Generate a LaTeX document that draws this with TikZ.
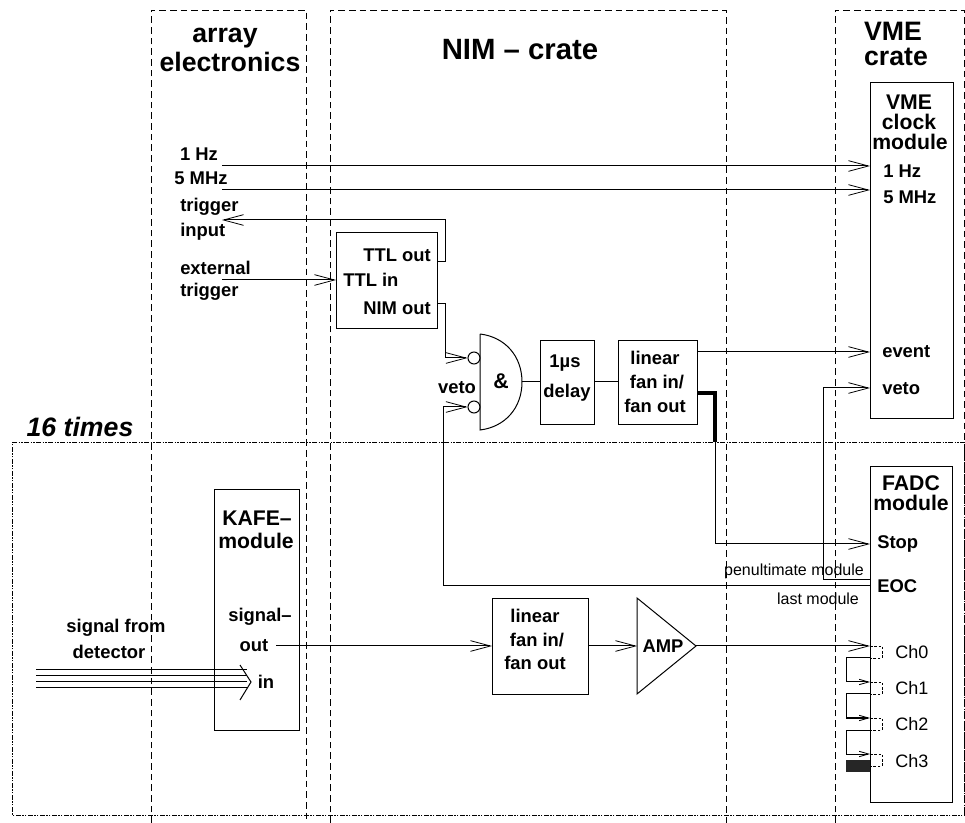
\documentclass[tikz,border=0pt]{standalone}
\usepackage{fontspec}
\setmainfont{Liberation Sans}
\usetikzlibrary{arrows.meta}
\newcommand{\fsz}[1]{\fontsize{#1}{#1}\selectfont}
\tikzset{
  x=0.75pt,y=-0.75pt,
  ln/.style={line width=0.75pt,black},
  region/.style={line width=0.6pt,dash pattern=on 5pt off 3pt},
  times/.style={line width=0.6pt,dash pattern=on 4pt off 1pt on 1pt off 1pt on 1pt off 1pt},
  stub/.style={line width=0.5pt,dash pattern=on 2pt off 1.2pt},
  box/.style 2 args={ln,draw,anchor=north west,inner sep=0pt,minimum width=#1*0.75pt,minimum height=#2*0.75pt},
  big/.style={ln,-{Straight Barb[length=15pt,width=8pt,line width=0.6pt]}},
  small/.style={ln,-{Straight Barb[length=7pt,width=4pt,line width=0.6pt]}},
  lab/.style={inner sep=0pt,font=\bfseries\fsz{13.8}},
  modlab/.style={inner sep=0pt,font=\bfseries\fsz{15.9}},
  title/.style={inner sep=0pt,font=\bfseries\fsz{20}},
  hugetitle/.style={inner sep=0pt,font=\bfseries\fsz{22}},
  note/.style={inner sep=0pt,font=\fsz{12}},
  chan/.style={inner sep=0pt,font=\fsz{13.5}},
}
\begin{document}
\begin{tikzpicture}
\useasboundingbox (0,0) rectangle (965,823);
% regions
\draw[region] (151,823) -- (151,10) -- (306,10) -- (306,823);
\draw[region] (330,823) -- (330,10) -- (726,10) -- (726,823);
\draw[region] (835,823) -- (835,10) -- (964,10) -- (964,815);
\draw[times] (12,442) -- (964,442) -- (964,815) -- (12,815) -- cycle;
% boxes
\node[box={83}{336}] (vmeclock) at (870,82) {};
\node[box={82}{336}] (fadc) at (870,466) {};
\node[box={85}{241}] (kafe) at (214,489) {};
\node[box={101}{96}] (ttl) at (336,232) {};
\node[box={54}{84}] (delay) at (540,340) {};
\node[box={79}{84}] (fan) at (618,340) {};
\node[box={96}{96}] (fanb) at (492,598) {};
% gate
\coordinate (gtop) at (480,334);
\coordinate (gbot) at (480,430);
\coordinate (gout) at (522,382);
\draw[ln] (gtop) -- (gbot) .. controls (505,427) and (522,408) .. (gout) .. controls (522,356) and (505,337) .. (gtop);
\node[ln,draw,circle,inner sep=0pt,minimum size=9pt] (inA) at (474,358) {};
\node[ln,draw,circle,inner sep=0pt,minimum size=9pt] (inB) at (474,407) {};
% amp
\coordinate (ampa) at (637,598);
\coordinate (ampb) at (637,694);
\coordinate (ampo) at (696,646);
\draw[ln] (ampa) -- (ampb) -- (ampo) -- cycle;
% free ends
\coordinate (hz) at (222,166);
\coordinate (mhz) at (222,190);
\coordinate (trigin) at (222,220);
\coordinate (exttrig) at (222,280);
\coordinate (kout) at (276,646);
% connectors
\draw[big] (hz) -- (hz -| vmeclock.west);
\draw[big] (mhz) -- (mhz -| vmeclock.west);
\draw[big] (exttrig) -- (exttrig -| ttl.west);
\draw[big] (ttl.east |- 0,262) -- (445,262) -- (445,220) -- (trigin);
\draw[big] (ttl.east |- 0,304) -- (445,304) -- (445,358) -- (inA.west);
\draw[ln] (gout) -- (delay.west |- gout);
\draw[ln] (delay.east |- gout) -- (fan.west |- gout);
\draw[big] (fan.east |- 0,352) -- (vmeclock.west |- 0,352);
\draw[ln,line width=2.4pt] (fan.east |- 0,393) -- (715,393) -- (715,442);
\draw[big] (715,442) -- (715,544) -- (fadc.west |- 0,544);
\draw[big] (fadc.west |- 0,580) -- (823,580) -- (823,388) -- (vmeclock.west |- 0,388);
\draw[big] (fadc.west |- 0,586) -- (443,586) -- (443,407) -- (inB.west);
\draw[big] (kout) -- (fanb.west |- kout);
\draw[big] (fanb.east |- kout) -- (ampa |- kout);
\draw[big] (ampo) -- (fadc.west |- ampo);
% signal bundle
\foreach \y in {670,676,682,688} \draw[ln] (36,\y) -- (247,\y);
\coordinate (sigA) at (240,665);
\coordinate (sigB) at (240,700);
\coordinate (sigT) at (251,682);
\draw[ln] (sigA) -- (sigT) -- (sigB);
% channels
\foreach \y in {646,682,718,754} {
  \draw[stub] (870,\y) -- (882,\y) -- (882,\y+12) -- (870,\y+12);
}
\draw[ln] (870,658) -- (846,658) -- (846,682);
\draw[small] (846,682) -- (870,682);
\draw[ln] (870,694) -- (846,694) -- (846,718);
\draw[small] (846,718) -- (870,718);
\draw[ln] (870,730) -- (846,730) -- (846,754);
\draw[small] (846,754) -- (870,754);
\fill[black!85] (846,760) rectangle (870,772);
% titles
\node[title] (t1) at (225,38) {array};
\node[title] (t2) at (230,62) {electronics};
\node[hugetitle] (t3) at (520,50) {NIM -- crate};
\node[title] (t4) at (893,31) {VME};
\node[title] (t5) at (896,57) {crate};
\node[inner sep=0pt,font=\bfseries\itshape\fsz{20}] (t6) at (80,427) {16 times};
% labels
\node[lab] (a1) at (199,154) {1 Hz};
\node[lab] (a2) at (201,178) {5 MHz};
\node[lab,anchor=west] (a3) at (180,207) {trigger};
\node[lab,anchor=west] (a4) at (180,232) {input};
\node[lab,anchor=west] (a5) at (180,268) {external};
\node[lab,anchor=west] (a6) at (180,292) {trigger};
\node[modlab] (v1) at (909,102) {VME};
\node[modlab] (v2) at (909,122) {clock};
\node[modlab] (v3) at (910,142) {module};
\node[lab,anchor=west] (v4) at (883,171) {1 Hz};
\node[lab,anchor=west] (v5) at (883,197) {5 MHz};
\node[lab,anchor=west] (v6) at (882,352) {event};
\node[lab,anchor=west] (v7) at (882,389) {veto};
\node[lab,anchor=east] (b1) at (431,255) {TTL out};
\node[lab,anchor=west] (b2) at (343,280) {TTL in};
\node[lab,anchor=east] (b3) at (431,308) {NIM out};
\node[inner sep=0pt,font=\bfseries\fsz{16}] (g1) at (501,381) {\&};
\node[lab] (g2) at (457,388) {veto};
\node[lab] (d1) at (565,363) {1µs};
\node[lab] (d2) at (567,393) {delay};
\node[lab] (f1) at (655,358) {linear};
\node[lab] (f2) at (657,382) {fan in/};
\node[lab] (f3) at (655,406) {fan out};
\node[modlab] (k1) at (257,518) {KAFE--};
\node[modlab] (k2) at (256,541) {module};
\node[lab] (k3) at (260,617) {signal--};
\node[lab] (k4) at (254,646) {out};
\node[lab] (k5) at (266,682) {in};
\node[lab] (s1) at (116,628) {signal from};
\node[lab] (s2) at (109,652) {detector};
\node[lab] (l1) at (535,616) {linear};
\node[lab] (l2) at (537,640) {fan in/};
\node[lab] (l3) at (535,663) {fan out};
\node[lab] (m1) at (663,646) {AMP};
\node[modlab] (c1) at (911,483) {FADC};
\node[modlab] (c2) at (911,503) {module};
\node[lab,anchor=west] (c3) at (877,544) {Stop};
\node[lab,anchor=west] (c4) at (877,586) {EOC};
\node[note] (n1) at (794,571) {penultimate module};
\node[note] (n2) at (818,599) {last module};
\node[chan,anchor=west] (h0) at (895,652) {Ch0};
\node[chan,anchor=west] (h1) at (895,688) {Ch1};
\node[chan,anchor=west] (h2) at (895,724) {Ch2};
\node[chan,anchor=west] (h3) at (895,761) {Ch3};
\end{tikzpicture}
\end{document}
